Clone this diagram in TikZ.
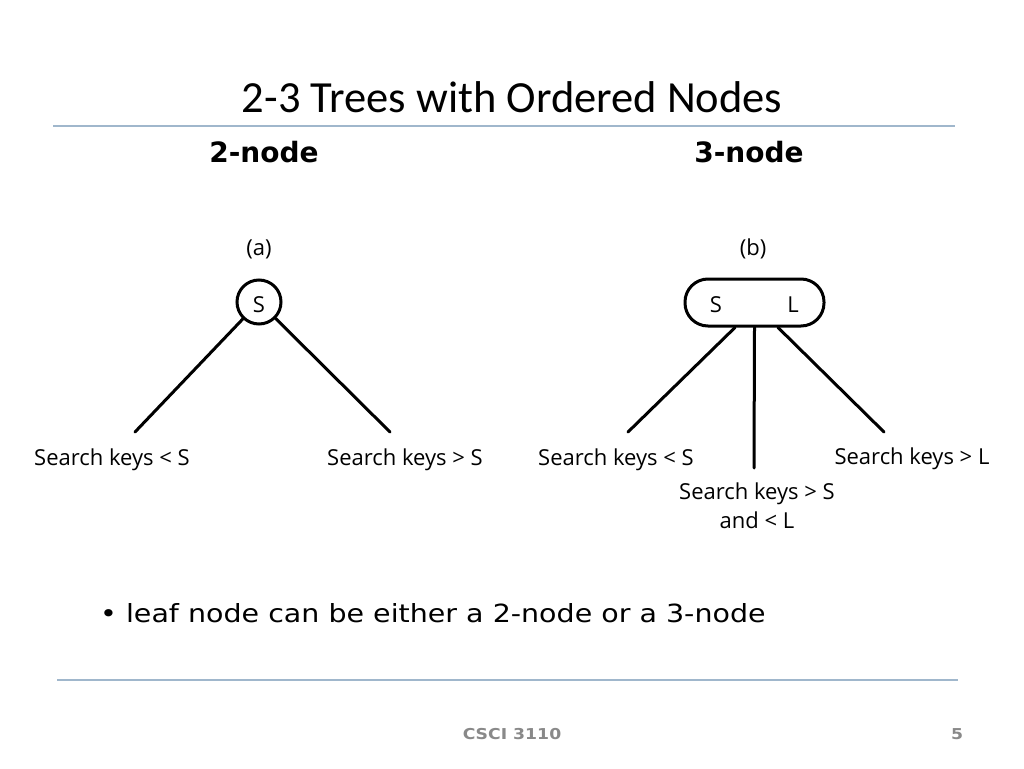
\documentclass[tikz,border=0pt]{standalone}
\usepackage{fontspec}
\setmainfont{DejaVu Sans}
\newfontfamily\titlefont{Carlito}
\newfontfamily\labelfont{Open Sans}
\newfontfamily\widefont[FakeStretch=1.14]{DejaVu Sans}
\newfontfamily\widebold[FakeStretch=1.15]{DejaVu Sans Bold}
\usetikzlibrary{calc}
\definecolor{rulecol}{RGB}{160,183,204}
\definecolor{footgray}{RGB}{137,137,137}
\tikzset{
  treeline/.style={line width=3pt, line cap=round},
  keylabel/.style={font=\labelfont\fontsize{22}{29}\selectfont, inner sep=0pt, anchor=base, align=center},
  keytext/.style={font=\labelfont\fontsize{22}{25}\selectfont, inner sep=0pt},
  header/.style={font=\bfseries\fontsize{28}{32}\selectfont, inner sep=0pt, anchor=base},
  rulerline/.style={draw=rulecol, line width=1.5pt},
  footer/.style={font=\widebold\fontsize{15}{18}\selectfont, text=footgray, inner sep=0pt, anchor=base}
}
\begin{document}
\begin{tikzpicture}[x=1pt,y=-1pt]
\useasboundingbox (0,0) rectangle (1024,768);
\fill[white] (0,0) rectangle (1024,768);
% title
\node[font=\titlefont\fontsize{44.5}{50}\selectfont, inner sep=0pt, anchor=base] (title) at (512,112) {2-3 Trees with Ordered Nodes};
\coordinate (r1a) at (53,126);
\coordinate (r1b) at (955,126);
\draw[rulerline] (r1a) -- (r1b);
% headers
\node[header] (h2) at (264,162) {2-node};
\node[header] (h3) at (749,162) {3-node};
% (a) and (b)
\node[keytext] (pa) at (259,249) {(a)};
\node[keytext] (pb) at (753,249) {(b)};
% 2-node
\node[circle, draw, line width=3pt, minimum size=44pt, inner sep=0pt] (s2) at (259,302) {};
\node[keytext, anchor=base] (s2t) at (259,312) {S};
\coordinate (e1) at (135,432);
\coordinate (e2) at (390,432);
\draw[treeline] (s2) -- (e1);
\draw[treeline] (s2) -- (e2);
\node[keylabel] (l1) at (112,465) {Search keys < S};
\node[keylabel] (l2) at (405,465) {Search keys > S};
% 3-node
\node[draw, line width=3pt, rounded corners=23pt, minimum width=139pt, minimum height=47pt, inner sep=0pt] (n3) at (754.5,302.5) {};
\node[keytext, anchor=base] (ks) at (716,312) {S};
\node[keytext, anchor=base] (kl) at (793,312) {L};
\coordinate (e3) at (628,432);
\coordinate (e4) at (754,468);
\coordinate (e5) at (884,432);
\draw[treeline] ([xshift=-19.5pt]n3.south) -- (e3);
\draw[treeline] (n3.south) -- (e4);
\draw[treeline] ([xshift=23.5pt]n3.south) -- (e5);
\node[keylabel] (l3) at (616,465) {Search keys < S};
\node[keylabel] (l5) at (912,464) {Search keys > L};
\node[keylabel, anchor=north] (l4) at (757,483) {Search keys > S\\and < L};
% bullet
\node[font=\widefont\fontsize{25}{28}\selectfont, inner sep=0pt, anchor=base west] (bul) at (100,622) {\textbullet\ leaf node can be either a 2-node or a 3-node};
\coordinate (r2a) at (57,680);
\coordinate (r2b) at (958,680);
\draw[rulerline] (r2a) -- (r2b);
% footer
\node[footer] (foot) at (512,739) {CSCI 3110};
\node[footer] (pg) at (957,739) {5};
\end{tikzpicture}
\end{document}
